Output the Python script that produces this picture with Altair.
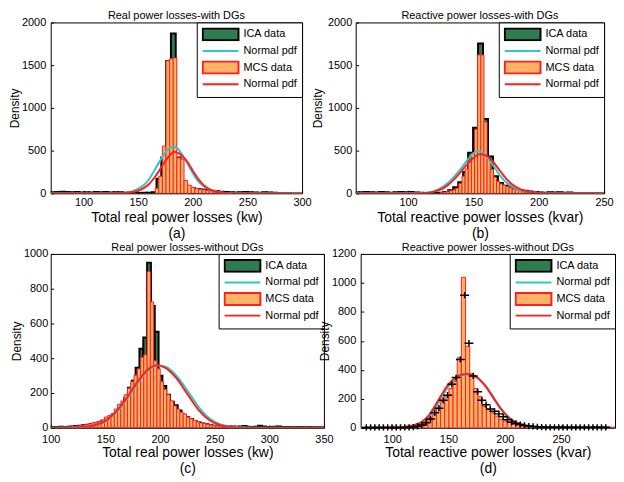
import altair as alt
import pandas as pd

FONT = "Liberation Sans"
GREEN = "#2E7D50"
ORANGE = "#FFB366"
RED = "#FF1F1F"
CYAN = "#2FC7C7"
RECT_PATH = "M-1,-0.333H1V0.333H-1Z"
CROSS_PATH = "M-1,0H1M0,-0.7V0.7"

series_names = ["ICA data", "Normal pdf", "MCS data", "Normal pdf "]
series_fill = [GREEN, CYAN, ORANGE, RED]
series_stroke = ["black", CYAN, RED, RED]
series_shape = [RECT_PATH, "stroke", RECT_PATH, "stroke"]

# ---------------- (a) Real power losses - with DGs ----------------
a_ica_start, a_ica_width = 70.0, 4.4
a_ica = [12, 15, 18, 15, 12, 15, 10, 14, 10, 15, 12, 15, 10, 14, 12, 8, 6, 5, 5, 6, 8, 12,
         170, 420, 1548, 1870, 420, 130,
         80, 60, 50, 45, 40, 30, 25, 18, 15, 12, 10, 12, 15, 12, 10, 8, 12, 10, 6, 5, 4, 3]
a_mcs_start, a_mcs_width = 165.6, 3.3
a_mcs = [60, 200, 553, 1552, 1575, 1585, 415, 400, 150, 95, 70, 58, 48, 42, 36, 30, 25, 20, 15, 10, 6]
a_cyan_x = [70, 130, 140, 150, 155, 160, 165, 170, 175, 180, 183, 186, 190, 195, 200, 205, 210, 215, 220, 225, 230, 240, 300]
a_cyan_y = [0, 1, 8, 55, 95, 165, 270, 380, 480, 540, 545, 525, 460, 350, 235, 140, 85, 48, 25, 10, 4, 0, 0]
a_red_x = [70, 130, 140, 150, 155, 160, 165, 170, 175, 180, 183, 187, 190, 195, 200, 205, 210, 215, 220, 225, 230, 240, 300]
a_red_y = [0, 2, 8, 30, 60, 110, 185, 280, 380, 460, 486, 470, 440, 370, 265, 170, 95, 48, 22, 10, 5, 1, 0]

# ---------------- (b) Reactive power losses - with DGs ----------------
b_ica_start, b_ica_width = 58.6, 3.8
b_ica = [10, 12, 15, 12, 10, 15, 12, 8, 12, 15, 12, 15, 10, 6, 5, 4, 5, 8, 15,
         35, 70, 130, 250, 475, 768, 1755, 870, 430, 200, 120, 90, 70, 50, 40, 30, 20, 15, 10, 8,
         12, 10, 12, 8, 10, 5, 5, 5, 4, 4, 3]
b_mcs_start, b_mcs_width = 124.5, 2.4
b_mcs = [10, 15, 20, 30, 40, 60, 115, 200, 285, 380, 470, 750, 1620, 1620, 836, 400, 280, 190,
         140, 110, 95, 80, 65, 50, 40, 30, 20, 12, 8]
b_cyan_x = [60, 110, 115, 120, 125, 130, 135, 140, 145, 150, 153, 156, 160, 165, 170, 175, 180, 185, 190, 195, 200, 210, 220, 250]
b_cyan_y = [0, 3, 8, 25, 60, 115, 190, 280, 380, 470, 495, 485, 430, 330, 215, 130, 75, 42, 25, 12, 5, 1, 0, 0]
b_red_x = [60, 110, 115, 120, 125, 130, 135, 140, 145, 150, 155, 160, 165, 170, 175, 180, 185, 190, 195, 200, 210, 220, 250]
b_red_y = [0, 2, 6, 20, 45, 90, 160, 245, 335, 415, 456, 440, 370, 270, 175, 100, 55, 28, 12, 5, 1, 0, 0]

# ---------------- (c) Real power losses - without DGs ----------------
c_ica_start, c_ica_width = 100.7, 3.5
c_ica = [5, 5, 6, 5, 6, 8, 10, 12, 15, 18, 20, 25, 30, 40, 52, 62, 80, 95, 130, 170,
         230, 270, 345, 455, 519, 950, 700, 552, 300, 240, 190, 150, 130, 100, 75, 60, 50, 38, 30, 25,
         20, 15, 12, 10, 8, 8, 8, 7, 6, 8, 10, 6, 5, 6, 12, 8, 5, 4, 6, 8, 5, 4, 5, 3, 4, 5, 3, 4, 3, 3, 3]
c_mcs_start, c_mcs_width = 119.2, 3.0
c_mcs = [8, 10, 12, 14, 18, 22, 28, 32, 38, 45, 62, 70, 80, 108, 135, 154, 190, 228, 265, 302,
         339, 404, 420, 898, 724, 385, 339, 265, 220, 190, 154, 126, 108, 89, 80, 61, 52, 43, 34, 28,
         24, 20, 16, 14, 12, 10, 9, 8, 7, 6, 5, 5, 4]
c_cyan_x = [100, 130, 140, 150, 160, 170, 180, 190, 198, 206, 216, 226, 236, 246, 256, 266, 280, 350]
c_cyan_y = [0, 4, 12, 35, 88, 168, 262, 335, 358, 348, 292, 205, 115, 50, 18, 6, 1, 0]
c_red_x = [100, 130, 140, 150, 160, 170, 180, 190, 197, 205, 215, 225, 235, 245, 255, 265, 280, 350]
c_red_y = [0, 5, 15, 40, 95, 175, 270, 340, 360, 345, 285, 195, 105, 45, 15, 5, 0, 0]

# ---------------- (d) Reactive power losses - without DGs ----------------
d_ica_center0, d_ica_width = 77.0, 3.8
d_ica = [2, 2, 2, 2, 2, 2, 2, 2, 2, 2,
         3, 5, 10, 20, 35, 60, 103, 135, 190, 225, 300, 347, 472, 915, 584, 358, 248, 190, 159, 130,
         114, 96, 76, 55, 40, 30, 22, 16, 12, 9, 7, 5,
         3, 3, 3, 3, 3, 3, 3, 3, 3, 3, 3, 3, 3, 3, 3]
d_mcs_start, d_mcs_width = 109.7, 3.7
d_mcs = [3, 5, 14, 25, 36, 47, 70, 92, 137, 181, 221, 271, 320, 483, 1039, 562, 372, 271, 215, 148,
         126, 103, 81, 58, 47, 36, 25, 20, 15, 12, 10, 8, 6, 5, 4, 3]
d_cyan_x = [72, 100, 110, 120, 126, 132, 138, 144, 150, 156, 162, 167, 172, 178, 184, 190, 196, 202, 208, 214, 220, 230, 240, 260, 298]
d_cyan_y = [0, 1, 4, 15, 32, 68, 130, 210, 285, 335, 362, 368, 360, 332, 280, 212, 142, 86, 48, 25, 12, 4, 1, 0, 0]
d_red_x = [72, 100, 110, 120, 126, 132, 138, 144, 150, 156, 162, 167, 172, 178, 184, 190, 196, 202, 208, 214, 220, 230, 240, 260, 298]
d_red_y = [0, 2, 6, 20, 40, 80, 150, 230, 300, 345, 368, 372, 362, 330, 275, 205, 135, 80, 45, 24, 12, 4, 1, 0, 0]


def hist_df(start, width, values):
    return pd.DataFrame({
        "x": [start + i * width for i in range(len(values))],
        "x2": [start + (i + 1) * width for i in range(len(values))],
        "d": values,
    })


def curve_df(xs, ys):
    return pd.DataFrame({"x": xs, "d": ys})


legend_df = pd.DataFrame({"series": series_names})


def panel(title, xtitle, caption, xdom, xticks, ydom, yticks, w, h,
          ica_layer_df, mcs_df, cyan_df, red_df, cross=False,
          lab_pad_x=3, title_pad_x=3, lab_pad_y=5, title_pad_y=0):
    xs = alt.Scale(domain=xdom, nice=False, zero=False)
    ys = alt.Scale(domain=ydom, nice=False, zero=True)
    xa = alt.Axis(values=xticks, title=[xtitle, caption], format="d", offset=-3,
                  labelPadding=lab_pad_x, titlePadding=title_pad_x)
    ya = alt.Axis(values=yticks, title="Density", format="d", offset=-3,
                  labelPadding=lab_pad_y, titlePadding=title_pad_y)
    X = lambda f: alt.X(f, type="quantitative", scale=xs, axis=xa)
    Y = lambda f: alt.Y(f, type="quantitative", scale=ys, axis=ya)

    mcs = alt.Chart(mcs_df).mark_bar(fill=ORANGE, stroke=RED, strokeWidth=1, clip=True).encode(
        x=X("x"), x2="x2:Q", y=Y("d"), y2=alt.datum(0))
    cy = alt.Chart(cyan_df).mark_line(color=CYAN, strokeWidth=2, interpolate="monotone", clip=True).encode(
        x=X("x"), y=Y("d"))
    rd = alt.Chart(red_df).mark_line(color=RED, strokeWidth=2, interpolate="monotone", clip=True).encode(
        x=X("x"), y=Y("d"))
    L = alt.Legend(title=None)
    leg = alt.Chart(legend_df).transform_filter("false").mark_point(filled=True, opacity=1).encode(
        fill=alt.Fill("series:N", scale=alt.Scale(domain=series_names, range=series_fill), legend=L),
        stroke=alt.Stroke("series:N", scale=alt.Scale(domain=series_names, range=series_stroke), legend=L),
        shape=alt.Shape("series:N", scale=alt.Scale(domain=series_names, range=series_shape), legend=L),
    )
    if cross:
        ica = alt.Chart(ica_layer_df).mark_point(shape=CROSS_PATH, size=81, stroke="black",
                                                 strokeWidth=1.5, filled=False, opacity=1).encode(
            x=X("x"), y=Y("d"))
        layers = [mcs, cy, rd, ica, leg]
    else:
        ica = alt.Chart(ica_layer_df).mark_bar(fill=GREEN, stroke="black", strokeWidth=2, clip=True).encode(
            x=X("x"), x2="x2:Q", y=Y("d"), y2=alt.datum(0))
        layers = [ica, mcs, cy, rd, leg]
    return alt.layer(*layers).properties(
        width=w, height=h,
        title=alt.TitleParams(text=title, fontSize=11, font=FONT, fontWeight="normal",
                              offset=-5, anchor="middle", color="black"),
    )


pa = panel("Real power losses-with DGs", "Total real power losses (kw)", "(a)",
           [70, 300], [100, 150, 200, 250, 300], [0, 2000], [0, 500, 1000, 1500, 2000], 253, 172,
           hist_df(a_ica_start, a_ica_width, a_ica), hist_df(a_mcs_start, a_mcs_width, a_mcs),
           curve_df(a_cyan_x, a_cyan_y), curve_df(a_red_x, a_red_y),
           lab_pad_x=3, title_pad_x=3, lab_pad_y=5, title_pad_y=0)
pb = panel("Reactive power losses-with DGs", "Total reactive power losses (kvar)", "(b)",
           [60, 250], [100, 150, 200, 250], [0, 2000], [0, 500, 1000, 1500, 2000], 250, 172,
           hist_df(b_ica_start, b_ica_width, b_ica), hist_df(b_mcs_start, b_mcs_width, b_mcs),
           curve_df(b_cyan_x, b_cyan_y), curve_df(b_red_x, b_red_y),
           lab_pad_x=3, title_pad_x=3, lab_pad_y=4, title_pad_y=3)
pc = panel("Real power losses-without DGs", "Total real power losses (kw)", "(c)",
           [100, 350], [100, 150, 200, 250, 300, 350], [0, 1000], [0, 200, 400, 600, 800, 1000], 275, 175,
           hist_df(c_ica_start, c_ica_width, c_ica), hist_df(c_mcs_start, c_mcs_width, c_mcs),
           curve_df(c_cyan_x, c_cyan_y), curve_df(c_red_x, c_red_y),
           lab_pad_x=6, title_pad_x=1, lab_pad_y=3, title_pad_y=0)
d_cross_df = pd.DataFrame({"x": [d_ica_center0 + i * d_ica_width for i in range(len(d_ica))], "d": d_ica})
pd_ = panel("Reactive power losses-without DGs", "Total reactive power losses (kvar)", "(d)",
            [72, 298], [100, 150, 200, 250], [0, 1200], [0, 200, 400, 600, 800, 1000, 1200], 256, 175,
            d_cross_df, hist_df(d_mcs_start, d_mcs_width, d_mcs),
            curve_df(d_cyan_x, d_cyan_y), curve_df(d_red_x, d_red_y), cross=True,
            lab_pad_x=6, title_pad_x=1, lab_pad_y=5, title_pad_y=0)

indep = dict(x="independent", y="independent", fill="independent", stroke="independent", shape="independent")
indep_leg = dict(fill="independent", stroke="independent", shape="independent")

row1 = alt.hconcat(pa, pb, spacing=54, bounds="flush").resolve_scale(**indep).resolve_legend(**indep_leg)
row2 = alt.hconcat(pc, pd_, spacing=37, bounds="flush").resolve_scale(**indep).resolve_legend(**indep_leg)

chart = alt.vconcat(row1, row2, spacing=0).resolve_scale(**indep).resolve_legend(**indep_leg).properties(
    padding={"left": 0, "top": 0, "right": 0, "bottom": 0}
).configure(
    font=FONT
).configure_view(
    stroke="black", strokeWidth=1
).configure_axis(
    labelFont=FONT, labelFontSize=11, labelColor="black",
    titleFont=FONT, titleColor="black", titleFontWeight="normal",
    domain=False, grid=False, tickColor="black", tickSize=3, tickWidth=1,
    labelOverlap=False
).configure_axisX(
    titleFontSize=14, titleLineHeight=16, labelFlush=False
).configure_axisY(
    titleFontSize=12
).configure_legend(
    orient="top-right", offset=0, padding=5, strokeColor="black", fillColor="white",
    symbolSize=1296, symbolStrokeWidth=2, labelFont=FONT, labelFontSize=11, labelColor="black",
    labelOffset=4, clipHeight=14, rowPadding=2.7, symbolOffset=0, labelLimit=200
)

chart.save("out.html", embed_options={"renderer": "svg", "actions": False})
